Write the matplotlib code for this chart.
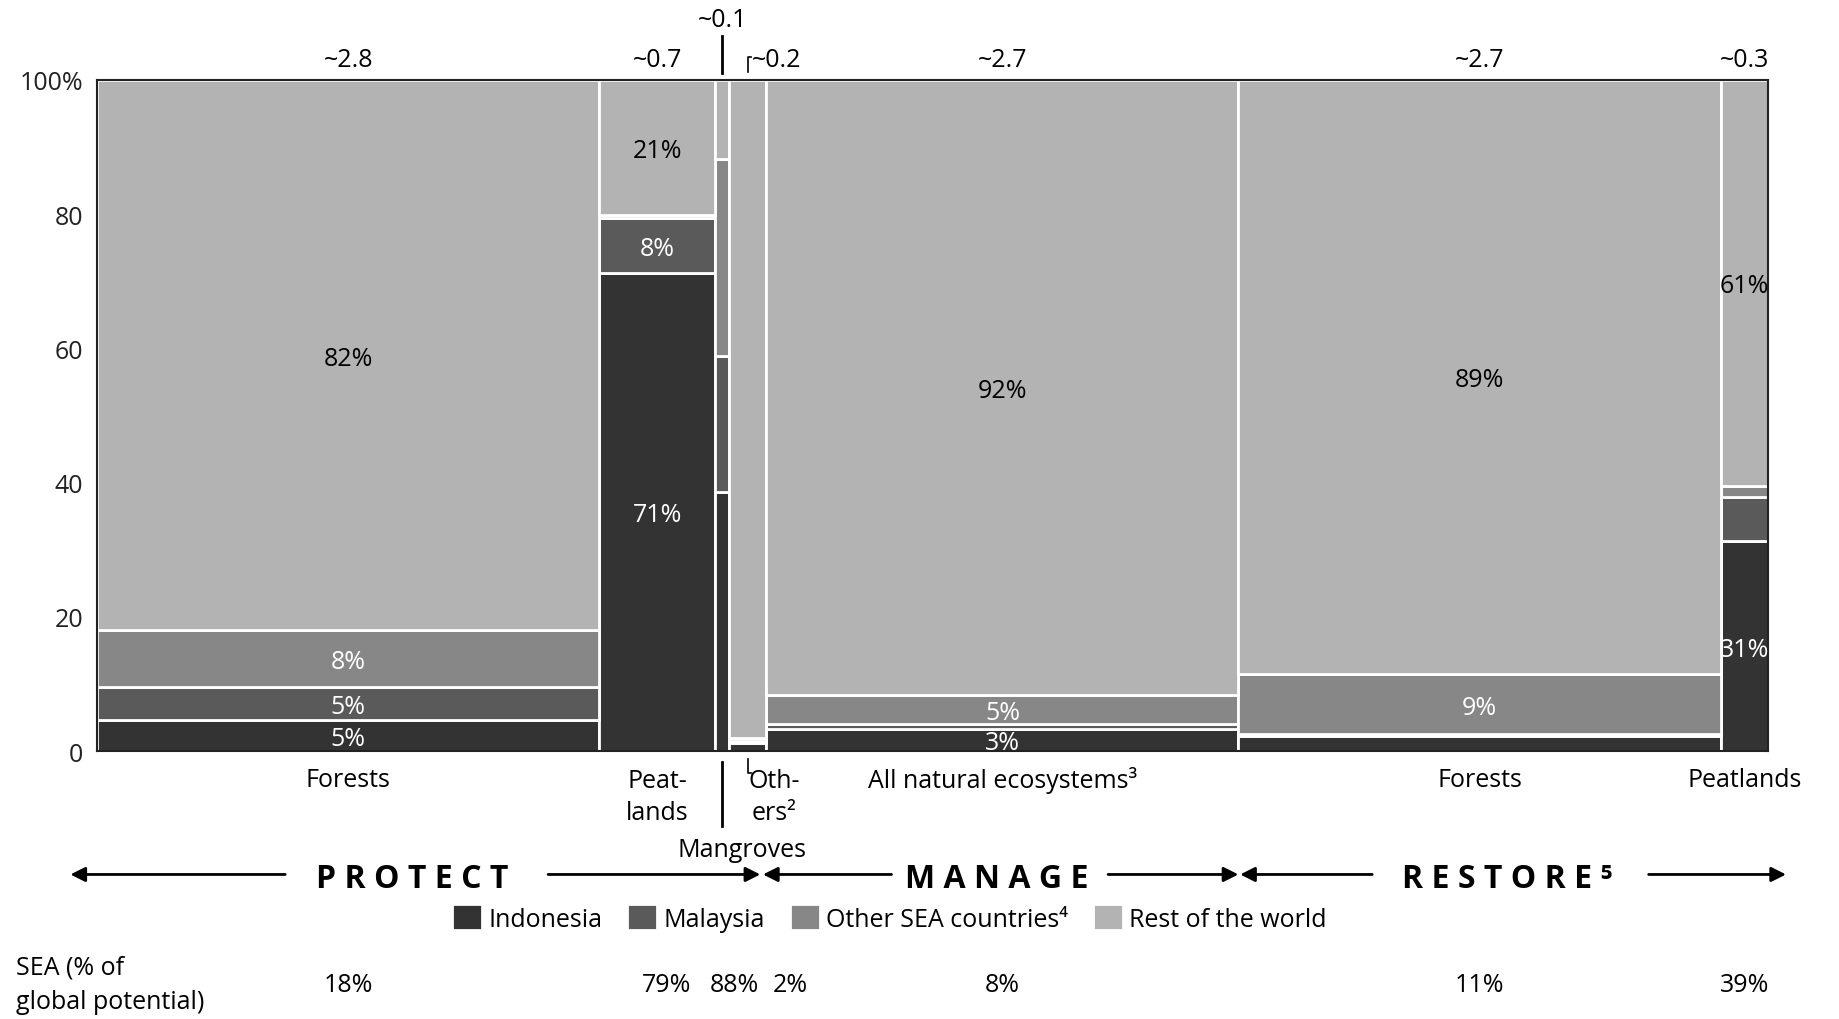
import matplotlib
matplotlib.use('Agg')
import matplotlib.pyplot as plt
import matplotlib.transforms as mtransforms
import numpy as np

plt.rcParams['font.family'] = ['Open Sans', 'DejaVu Sans']
FS = 18

# column data (widths ~ potential)
columns = ['Forests', 'Peatlands', 'Mangroves', 'Others', 'All natural', 'Restore forests', 'Restore peatlands']
widths = [2.85, 0.66, 0.08, 0.21, 2.68, 2.74, 0.27]
width_labels = ['~2.8', '~0.7', '~0.1', '~0.2', '~2.7', '~2.7', '~0.3']

indonesia = [4.7, 71.3, 38.6, 1.2, 3.3, 2.3, 31.3]
malaysia = [4.9, 8.1, 20.3, 0.3, 0.7, 0.2, 6.5]
other_sea = [8.4, 0.5, 29.4, 0.5, 4.4, 9.0, 1.7]
rest = [82.0, 20.1, 11.7, 98.0, 91.6, 88.5, 60.5]

series_names = ['Indonesia', 'Malaysia', 'Other SEA countries⁴', 'Rest of the world']
colors = ['#333333', '#5a5a5a', '#878787', '#b3b3b3']
text_colors = ['white', 'white', 'white', 'black']

# labels inside segments: (column index, series index, text)
seg_labels = [(0, 0, '5%'), (0, 1, '5%'), (0, 2, '8%'), (0, 3, '82%'),
              (1, 0, '71%'), (1, 1, '8%'), (1, 3, '21%'),
              (4, 0, '3%'), (4, 2, '5%'), (4, 3, '92%'),
              (5, 2, '9%'), (5, 3, '89%'),
              (6, 0, '31%'), (6, 3, '61%')]

sea_share = ['18%', '79%', '88%', '2%', '8%', '11%', '39%']
sea_offsets = [0, 0.05, 0.07, 0.24, 0, 0, 0]

fig = plt.figure(figsize=(18.4, 10.2), dpi=100)
ax = fig.add_axes([0.0529, 0.2627, 0.9082, 0.6579])

lefts = np.concatenate([[0], np.cumsum(widths)[:-1]])
centers = lefts + np.array(widths) / 2
data = np.array([indonesia, malaysia, other_sea, rest])
bottoms = np.vstack([np.zeros(len(widths)), np.cumsum(data, axis=0)[:-1]])

for i in range(4):
    ax.bar(lefts, data[i], width=widths, bottom=bottoms[i], align='edge',
           color=colors[i], edgecolor='white', linewidth=2, label=series_names[i])

for ci, si, txt in seg_labels:
    y = bottoms[si][ci] + data[si][ci] / 2
    ax.text(centers[ci], y, txt, ha='center', va='center_baseline', fontsize=FS,
            color=text_colors[si], clip_on=False)

total = sum(widths)
ax.set_xlim(0, total)
ax.set_ylim(0, 100)
ax.set_xticks([])
ax.set_yticks([0, 20, 40, 60, 80, 100])
ax.set_yticklabels(['0', '20', '40', '60', '80', '100%'], fontsize=FS, color='#222222')
ax.tick_params(axis='y', length=0, pad=10)
for sp in ax.spines.values():
    sp.set_linewidth(1.5)
    sp.set_color('#222222')

tr_ax = mtransforms.blended_transform_factory(ax.transData, ax.transAxes)
tr_fig = mtransforms.blended_transform_factory(ax.transData, fig.transFigure)

# width labels on top
for i, lab in enumerate(width_labels):
    if i == 2:
        ax.text(centers[i], 1.095, lab, transform=tr_ax, ha='center', va='center_baseline', fontsize=FS)
        ax.plot([centers[i], centers[i]], [1.01, 1.066], transform=tr_ax, color='black', lw=2, clip_on=False)
    elif i == 3:
        ax.text(centers[i] + 0.02, 1.035, lab, transform=tr_ax, ha='left', va='center_baseline', fontsize=FS)
        ax.plot([centers[i], centers[i], centers[i] + 0.015], [1.012, 1.035, 1.035], transform=tr_ax,
                color='black', lw=1.2, clip_on=False)
    else:
        ax.text(centers[i], 1.035, lab, transform=tr_ax, ha='center', va='center_baseline', fontsize=FS)

# category labels below
ax.text(centers[0], -0.042, 'Forests', transform=tr_ax, ha='center', va='center', fontsize=FS)
ax.text(centers[1], -0.068, 'Peat-\nlands', transform=tr_ax, ha='center', va='center', fontsize=FS, linespacing=1.4)
ax.plot([centers[2], centers[2]], [-0.017, -0.112], transform=tr_ax, color='black', lw=2, clip_on=False)
ax.text(centers[2] + 0.11, -0.147, 'Mangroves', transform=tr_ax, ha='center', va='center', fontsize=FS)
ax.text(centers[3] + 0.15, -0.068, 'Oth-\ners²', transform=tr_ax, ha='center', va='center', fontsize=FS, linespacing=1.4)
ax.plot([centers[3], centers[3], centers[3] + 0.015], [-0.012, -0.032, -0.032], transform=tr_ax,
        color='black', lw=1.2, clip_on=False)
ax.text(centers[4], -0.042, 'All natural ecosystems³', transform=tr_ax, ha='center', va='center', fontsize=FS)
ax.text(centers[5], -0.042, 'Forests', transform=tr_ax, ha='center', va='center', fontsize=FS)
ax.text(centers[6], -0.042, 'Peatlands', transform=tr_ax, ha='center', va='center', fontsize=FS)

# PROTECT / MANAGE / RESTORE arrows: (text, left head, left tail, text x, right tail, right head)
arrow_y = 0.1417
sections = [('P R O T E C T', -0.153, 1.067, 1.79, 2.56, 3.765),
            ('M A N A G E', 3.78, 4.51, 5.11, 5.74, 6.48),
            ('R E S T O R E ⁵', 6.49, 7.24, 8.01, 8.81, 9.59)]
arr = dict(arrowstyle='-|>', color='black', lw=2, mutation_scale=22, shrinkA=0, shrinkB=0)
for name, h0, t0, xm, t1, h1 in sections:
    ax.annotate('', xy=(h0, arrow_y), xytext=(t0, arrow_y),
                xycoords=tr_fig, textcoords=tr_fig, arrowprops=arr, annotation_clip=False)
    ax.annotate('', xy=(h1, arrow_y), xytext=(t1, arrow_y),
                xycoords=tr_fig, textcoords=tr_fig, arrowprops=arr, annotation_clip=False)
    ax.text(xm, arrow_y, name, transform=tr_fig, ha='center', va='center_baseline', fontsize=23,
            fontweight='bold')

# legend
fig.legend(loc='center', bbox_to_anchor=(0.4834, 0.099), ncol=4, frameon=False, fontsize=FS,
           handlelength=1.2, handleheight=1.2, handletextpad=0.25, columnspacing=1.0)

# SEA share row
fig.text(0.0087, 0.0336, 'SEA (% of\nglobal potential)', ha='left', va='center', fontsize=FS, linespacing=1.5)
for i, s in enumerate(sea_share):
    ax.text(centers[i] + sea_offsets[i], 0.0336, s, transform=tr_fig, ha='center', va='center', fontsize=FS)

fig.savefig('out.png', dpi=100)
